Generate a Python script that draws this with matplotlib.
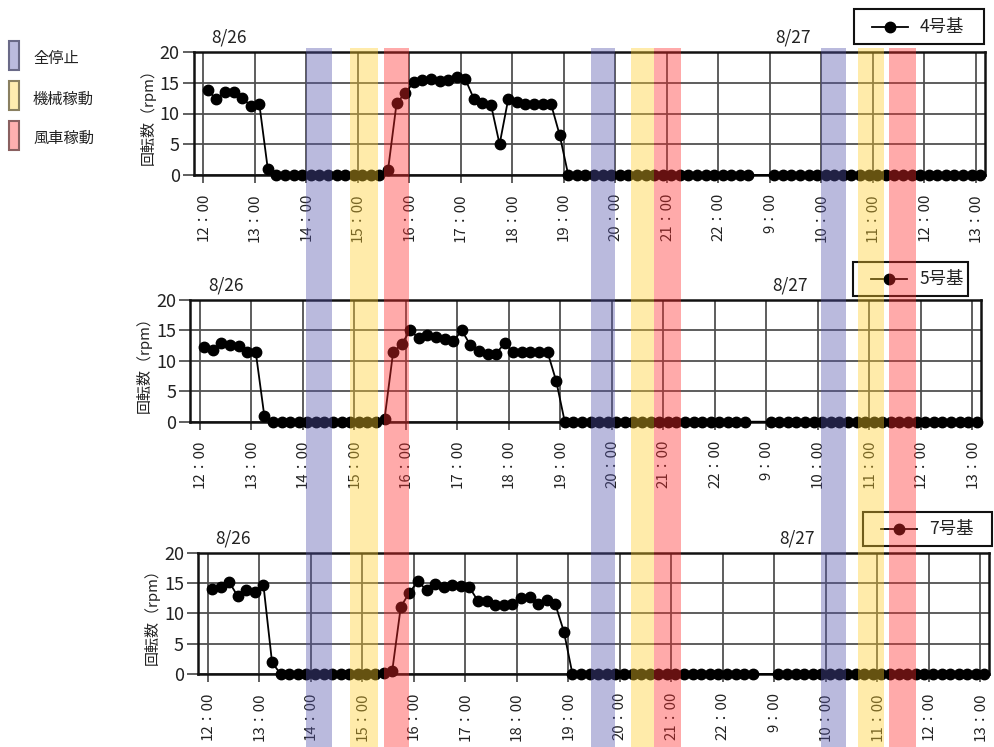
import matplotlib
matplotlib.use("Agg")
import matplotlib.pyplot as plt
from matplotlib.patches import Rectangle
from matplotlib.lines import Line2D
from matplotlib.transforms import blended_transform_factory
import numpy as np

plt.rcParams['font.family'] = ['Noto Sans CJK JP', 'DejaVu Sans']

W, H = 995, 747

# x-axis hour labels (8/26 12:00 - 22:00, then 8/27 9:00 - 13:00)
hour_labels = ['12：00', '13：00', '14：00', '15：00', '16：00', '17：00',
               '18：00', '19：00', '20：00', '21：00', '22：00',
               '9：00', '10：00', '11：00', '12：00', '13：00']

# 10-minute readings: 8/26 from 12:05 to 22:35, 8/27 from 9:05 to 13:05
day1_first_minute = 5      # minutes after 12:00
day2_first_minute = 5      # minutes after 9:00
step_minutes = 10

unit4_day1 = [13.8, 12.3, 13.5, 13.5, 12.5, 11.3, 11.6, 0.9,
              0, 0, 0, 0, 0, 0, 0, 0, 0, 0, 0, 0, 0,
              0.8, 11.7, 13.3,
              15.1, 15.5, 15.6, 15.3, 15.5, 15.9,
              15.6, 12.4, 11.7, 11.4, 5.0, 12.3,
              11.8, 11.6, 11.5, 11.5, 11.5, 6.5,
              0, 0, 0, 0, 0, 0, 0, 0, 0, 0, 0,
              0, 0, 0, 0, 0, 0, 0, 0, 0, 0, 0]
unit4_day2 = [0, 0, 0, 0, 0, 0, 0, 0, 0, 0, 0, 0, 0,
              0, 0, 0, 0, 0, 0, 0, 0, 0, 0, 0, 0]

unit5_day1 = [12.2, 11.8, 12.9, 12.6, 12.5, 11.4, 11.4, 0.9,
              0, 0, 0, 0, 0, 0, 0, 0, 0, 0, 0, 0, 0,
              0.4, 11.4, 12.8,
              15.0, 13.7, 14.2, 13.9, 13.6, 13.2,
              15.0, 12.6, 11.7, 11.2, 11.2, 12.9,
              11.5, 11.4, 11.4, 11.4, 11.4, 6.7,
              0, 0, 0, 0, 0, 0, 0, 0, 0, 0, 0,
              0, 0, 0, 0, 0, 0, 0, 0, 0, 0, 0]
unit5_day2 = [0, 0, 0, 0, 0, 0, 0, 0, 0, 0, 0, 0, 0,
              0, 0, 0, 0, 0, 0, 0, 0, 0, 0, 0, 0]

unit7_day1 = [14.0, 14.3, 15.2, 12.8, 13.9, 13.5, 14.6, 1.9,
              0, 0, 0, 0, 0, 0, 0, 0, 0, 0, 0, 0, 0.2,
              0.5, 11.1, 13.4,
              15.3, 13.8, 14.9, 14.4, 14.7, 14.5,
              14.3, 12.0, 12.0, 11.3, 11.3, 11.5,
              12.5, 12.7, 11.6, 12.2, 11.5, 7.0,
              0, 0, 0, 0, 0, 0, 0, 0, 0, 0, 0,
              0, 0, 0, 0, 0, 0, 0, 0, 0, 0, 0]
unit7_day2 = [0, 0, 0, 0, 0, 0, 0, 0, 0, 0, 0, 0, 0,
              0, 0, 0, 0, 0, 0, 0, 0, 0, 0, 0, 0]

unit_names = ['4号基', '5号基', '7号基']

# operating-state periods (day, start, end)
status_names = ['全停止', '機械稼動', '風車稼動']
status_periods = [
    ('全停止', 1, '14:00', '14:30'),
    ('機械稼動', 1, '14:51', '15:23'),
    ('風車稼動', 1, '15:30', '16:00'),
    ('全停止', 1, '19:32', '20:00'),
    ('機械稼動', 1, '20:18', '20:45'),
    ('風車稼動', 1, '20:45', '21:16'),
    ('全停止', 2, '10:00', '10:29'),
    ('機械稼動', 2, '10:43', '11:13'),
    ('風車稼動', 2, '11:19', '11:50'),
]
band_colors = {'全停止': (0.33, 0.33, 0.67),
               '機械稼動': (1.0, 0.81, 0.17),
               '風車稼動': (1.0, 0.17, 0.17)}
key_face = {'全停止': '#bbbbde', '機械稼動': '#ffecb0', '風車稼動': '#ffb0b0'}
key_edge = {'全停止': '#6a6a88', '機械稼動': '#8a8060', '風車稼動': '#8a6060'}


def clock_to_axis(day, clock):
    h, m = clock.split(':')
    t = int(h) + int(m) / 60
    return t - 12 if day == 1 else t - 9 + 11


def series_x(n1, n2):
    x1 = (day1_first_minute + step_minutes * np.arange(n1)) / 60
    x2 = 11 + (day2_first_minute + step_minutes * np.arange(n2)) / 60
    return np.concatenate([x1, x2])


fig = plt.figure(figsize=(W / 100, H / 100), dpi=100)


def px_axes(left, top, right, bottom):
    return fig.add_axes([left / W, 1 - bottom / H, (right - left) / W, (bottom - top) / H])


# axes boxes in pixels: (left, top, right, bottom)
boxes = [(193.7, 52, 984.7, 175), (190.2, 300, 981.2, 421.7), (197.9, 552.7, 988.9, 674)]
series = [(unit4_day1, unit4_day2), (unit5_day1, unit5_day2), (unit7_day1, unit7_day2)]
legend_boxes = [(854, 9, 984, 44), (853, 262, 968, 296), (863, 512, 992, 546)]

axes = []
for box, (d1, d2), name, lb in zip(boxes, series, unit_names, legend_boxes):
    ax = px_axes(*box)
    axes.append(ax)
    x = series_x(len(d1), len(d2))
    y = np.array(d1 + d2, dtype=float)
    ax.plot(x, y, color='black', lw=1.3, marker='o', ms=7.5,
            mfc='black', mec='black', clip_on=False, zorder=3)
    ax.set_xlim(-0.19, 15.17)
    ax.set_ylim(0, 20)
    ax.set_xticks(np.arange(16))
    ax.set_xticklabels(hour_labels, rotation=90, fontsize=10.8, color='#222222')
    ax.set_yticks([0, 5, 10, 15, 20])
    ax.set_yticklabels(['0', '5', '10', '15', '20'], fontsize=13, color='#222222')
    ax.tick_params(axis='x', length=6, width=1.2, color='#444444', pad=7)
    ax.tick_params(axis='y', length=8, width=1.2, color='#444444', pad=2)
    ax.grid(True, color='#505050', lw=1.3)
    ax.set_axisbelow(True)
    for s in ax.spines.values():
        s.set_color('#111111')
        s.set_linewidth(1.8)
    ax.set_ylabel('回転数（rpm）', fontsize=10.8, color='#222222', labelpad=3)
    ax.text(0.5, 20.9, '8/26', fontsize=12.5, color='#222222', ha='center', va='bottom')
    ax.text(11.45, 20.9, '8/27', fontsize=12.5, color='#222222', ha='center', va='bottom')

    # series key box
    l, t, r, b = lb
    fig.add_artist(Rectangle((l / W, 1 - b / H), (r - l) / W, (b - t) / H,
                             transform=fig.transFigure, facecolor='white',
                             edgecolor='#111111', lw=1.5, zorder=5))
    yc = 1 - (t + b) / 2 / H
    fig.add_artist(Line2D([(l + 18) / W, (l + 54) / W], [yc, yc], color='black',
                          lw=1.3, zorder=6, transform=fig.transFigure))
    fig.add_artist(Line2D([(l + 36) / W], [yc], marker='o', ms=7.5, color='black',
                          zorder=6, transform=fig.transFigure))
    fig.text((l + 66) / W, yc, name, fontsize=12.5, color='#222222',
             ha='left', va='center', zorder=6)

# state bands spanning all three panels
trans = blended_transform_factory(axes[0].transData, fig.transFigure)
band_top = 1 - 48 / H
for kind, day, t0, t1 in status_periods:
    x0 = clock_to_axis(day, t0)
    x1 = clock_to_axis(day, t1)
    fig.add_artist(Rectangle((x0, 0), x1 - x0, band_top, transform=trans,
                             facecolor=band_colors[kind], alpha=0.4,
                             edgecolor='none', zorder=10))

# state key
key_rows = [(41, 70, 58), (81, 110, 99), (121, 150, 138)]
for kind, (t, b, ty) in zip(status_names, key_rows):
    fig.add_artist(Rectangle((9 / W, 1 - b / H), 10 / W, (b - t) / H,
                             transform=fig.transFigure, facecolor=key_face[kind],
                             edgecolor=key_edge[kind], lw=1.5, zorder=5))
    fig.text(33 / W, 1 - ty / H, kind, fontsize=11, color='#222222',
             ha='left', va='center')

fig.savefig('out.png', dpi=100)
